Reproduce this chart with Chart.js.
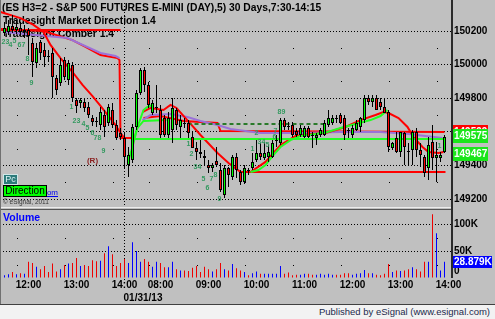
<!DOCTYPE html>
<html>
<head>
<meta charset="utf-8">
<script src="https://cdn.jsdelivr.net/npm/chart.js@4.4.1/dist/chart.umd.min.js"></script>
<style>
  html, body { margin:0; padding:0; }
  body { width:495px; height:319px; background:#c0c0c0; position:relative; overflow:hidden; font-family:"Liberation Sans", Arial, sans-serif; }
  canvas { position:absolute; left:0; }
  #pc { top:0; }
  #vc { top:207px; }
  #leftline { position:absolute; left:0; top:0; width:1px; height:304px; background:#707070; }
  #footer { position:absolute; left:0; top:304px; width:495px; height:15px; background:#f2f2f2; border-top:1px solid #404040; box-sizing:border-box; }
  #footer span { position:absolute; right:5px; top:1px; font-size:9.5px; line-height:12px; color:#1b2a4c; white-space:nowrap; }
</style>
</head>
<body>
<canvas id="pc" width="495" height="207"></canvas>
<canvas id="vc" width="495" height="97"></canvas>
<div id="leftline"></div>
<div id="footer"><span>Published by eSignal (www.esignal.com)</span></div>
<script>
// ================= DATA =================
// 5-minute bars: day 1 11:30-14:10 (index 0-32), day 2 (01/31/13) 07:30-14:00 (index 33-110)
const openP = [150188,150194,150230,150206,150218,150194,150206,150129,150010,150135,
150087,150051,150069,149920,149891,150028,149908,149998,149789,149771,
149777,149748,149682,149664,149641,149700,149652,149730,149641,149593,
149563,149403,149432,149629,149831,149968,149879,149712,149742,149730,
149682,149581,149611,149730,149629,149652,149652,149569,149504,149480,
149456,149403,149385,149426,149373,149224,149385,149331,149450,149361,
149301,149373,149385,149432,149474,149444,149450,149450,149545,149534,
149670,149635,149641,149605,149581,149569,149623,149581,149563,149581,
149581,149641,149652,149682,149700,149682,149611,149581,149611,149629,
149670,149801,149777,149801,149777,149748,149718,149504,149563,149480,
149593,149486,149492,149599,149492,149450,149385,149540,149444,149444,
149480];
const highP = [150254,150265,150295,150265,150254,150236,150218,150158,150129,150146,
150129,150087,150099,149938,150039,150045,150028,150016,149801,149801,
149801,149777,149700,149688,149748,149730,149766,149771,149670,149623,
149593,149510,149647,149849,149980,149986,149896,149789,149879,149760,
149700,149718,149801,149742,149700,149682,149670,149599,149540,149551,
149492,149432,149414,149510,149414,149403,149391,149462,149474,149373,
149403,149385,149474,149551,149534,149540,149522,149551,149581,149682,
149682,149658,149658,149623,149641,149635,149635,149599,149593,149623,
149670,149730,149700,149700,149712,149700,149623,149641,149670,149688,
149819,149819,149819,149819,149801,149801,149730,149540,149599,149599,
149599,149534,149611,149623,149534,149462,149569,149641,149540,149480,
149581];
const lowP = [150170,150176,150188,150182,150170,150158,150057,149926,149980,150028,
149986,150016,149801,149819,149873,149908,149879,149777,149712,149742,
149718,149682,149635,149629,149611,149569,149635,149623,149551,149551,
149385,149331,149414,149611,149819,149837,149742,149700,149712,149563,
149569,149563,149534,149611,149563,149623,149563,149504,149432,149444,
149403,149355,149361,149391,149242,149206,149272,149313,149325,149284,
149290,149343,149373,149420,149432,149432,149420,149444,149510,149522,
149611,149611,149569,149569,149569,149563,149563,149504,149522,149569,
149575,149629,149641,149652,149647,149551,149563,149563,149605,149599,
149652,149760,149748,149730,149730,149712,149480,149492,149474,149450,
149403,149403,149403,149450,149391,149331,149313,149373,149301,149420,
149474];
const closeP = [150218,150230,150206,150224,150194,150206,150170,150016,150099,150069,
150045,150045,149926,149849,149998,149926,150010,149801,149754,149789,
149742,149700,149658,149658,149718,149629,149748,149641,149563,149569,
149450,149462,149629,149831,149968,149879,149760,149771,149748,149581,
149581,149682,149742,149641,149670,149647,149593,149504,149480,149468,
149444,149385,149403,149403,149254,149385,149343,149450,149373,149301,
149385,149367,149420,149474,149450,149474,149480,149534,149551,149670,
149629,149629,149581,149581,149623,149623,149569,149575,149581,149611,
149652,149682,149682,149676,149652,149581,149605,149623,149652,149682,
149801,149777,149801,149730,149748,149712,149510,149534,149480,149599,
149510,149480,149599,149492,149462,149355,149522,149444,149462,149462,
149569];
const volume = [5000,7000,11000,7000,9000,8000,30000,28000,21000,16000,
22000,11000,27000,12000,16000,24000,27000,28000,37000,22000,
24000,22000,33000,31000,32000,46000,59000,44000,22000,28000,
35000,28000,66000,50000,30000,35000,30000,21000,30000,28000,
20000,20000,30000,16000,14000,14000,13000,19000,22000,11000,
21000,16000,12000,16000,28000,16000,14000,26000,18000,14000,
11000,5000,9000,12000,8000,8000,8000,8000,8000,22000,
8000,10000,5000,6000,6000,8000,8000,6000,6000,8000,
6000,8000,6000,6000,6000,9000,9000,6000,8000,9000,
15000,9000,9000,6000,5000,8000,26000,11000,14000,13000,
14000,16000,20000,16000,12000,30000,30000,118000,83000,14000,
30000];

// Time axis (bar index of each label) and labels
const timeTickIdx = [6,18,30,39,51,63,75,87,99,111];
const timeTickText = ['12:00','13:00','14:00','08:00','09:00','10:00','11:00','12:00','13:00','14:00'];
const dateLabel = '01/31/13';
const priceTicks = [149200,149400,149600,149800,150000,150200];
const volTicks = [0,50000,100000];
const volTickText = ['0','50K','100K'];

// Study lines: [bar index, price]
const comberDay1 = [[-1,150206],[29,150206]];
const fastRedDay1 = [[-1,150313],[4,150277],[7.25,150236],[9.75,150194],[11.5,150117],[14,150039],[17,149956],[19.5,149879],[22,149813],[24,149754],[26,149694],[27.75,149641],[29,149593],[30,149563]];
const slowRedDay1 = [[-1,150212],[9.75,150200],[17,150146],[20.25,150105],[24,150057],[28.25,150039],[28.75,150027],[29,149563],[31.75,149563]];
const purpleDay1 = [[-0.25,150194],[15.75,150158],[24,150069],[27.75,150051],[28.75,150039]];
const greenFast2 = [[31,149432],[32,149510],[33.25,149629],[34.75,149730],[35.75,149748],[37,149760]];
const greenStep2 = [[32.25,149551],[33.25,149623],[34.75,149665],[40.5,149670]];
const greenLevel2 = [[31.75,149557],[110.25,149557]];
const fastRed2 = [[34.5,149718],[36.5,149742],[39.75,149730],[41.5,149760],[43,149742],[45.25,149682],[49,149581],[53.25,149474],[56,149415],[59,149361],[61.5,149361],[65.25,149421],[69,149522],[72.75,149575],[76.5,149587],[80.25,149593],[85.25,149629],[89,149670],[92.75,149700],[94.75,149718],[96,149712],[98.5,149682],[100.75,149629],[102.25,149569],[104.5,149510],[106,149480],[108.5,149474],[109.75,149480]];
const slowRed2 = [[34.75,149682],[39,149694],[44.75,149665],[53.25,149653],[54,149605],[110,149599]];
const purple2 = [[34.5,149670],[36.5,149700],[41.5,149706],[45.75,149688],[49,149665],[53.25,149641],[56.5,149617],[64,149593],[74,149593],[84,149599],[94,149599],[101,149587],[109.5,149563]];
const greenTrend2 = [[61.5,149361],[63.5,149373],[65.25,149403],[67,149456],[69,149510],[71.5,149551],[74,149575],[77.75,149587],[80.75,149599],[84,149623],[87.75,149647],[91.5,149670],[94,149694],[95.75,149730]];
const redLevel2 = [[61.5,149361],[110.25,149361]];
const dashedGreen2 = [[45.75,149647],[79.75,149647]];

// Count annotations: [bar index, price, text]
const counts = [
 [0.25,150135,'23'],[1.5,150117,'4'],[2.5,150141,'5'],[4.25,150117,'67'],[5.75,150033,'8'],[6.75,149891,'9'],
 [16.75,149748,'1'],[18,149665,'23'],[19.75,149647,'4'],[20.75,149623,'5'],[22,149593,'6'],[23.25,149563,'78'],[24.75,149486,'9'],
 [46,149528,'1'],[46.75,149468,'2'],[48.25,149391,'34'],[49.75,149319,'5'],[50.75,149266,'6'],[51.75,149319,'7'],[52.75,149343,'8'],[53.75,149200,'9'],
 [62,149498,'1'],[63,149593,'2'],[64.25,149540,'34'],[65.75,149522,'5'],[67.5,149569,'6'],[67.75,149605,'7'],[69.25,149718,'89'],
 [108.75,149516,'1']
];
const rMark = [22,149427,'(R)'];
const lastValues = [149599,149575,149467];
const lastVolume = 28879;
const lastVolumeText = '28.879K';

const titleText = '(ES H3=2 - S&P 500 FUTURES E-MINI (DAY),5) 30 Days,7:30-14:15';
const study1 = 'Tradesight Market Direction 1.4';
const study2 = 'Tradesight Comber 1.4';

// ================= STYLE / LAYOUT =================
const FONT = '"Liberation Sans", Arial, sans-serif';
const X_MIN = -1.125, X_MAX = 111.875;
const Y_MAX = 150366.6, Y_MIN = 149158.75;
const VOL_MAX = 125926;
const lastValueColors = ['#ff0000','#1be61b','#1be61b'];
const midLevels = [150100,149900,149700,149500,149300];
const dotIdx = [3,15,27,36,48,60,72,84,96,108];
const sepIdx = 29.75;

const n = openP.length;
const idx = Array.from({length:n}, (_, i) => i);
const up = idx.map(i => closeP[i] >= openP[i]);
const toXY = arr => arr.map(([x, y]) => ({x, y}));
const lineDs = (data, color, extra) => Object.assign({
  type:'line', data: toXY(data), borderColor: color, borderWidth: 2,
  pointRadius: 0, tension: 0, fill: false, order: 3
}, extra || {});

const pricePlugin = {
  id: 'pricePlugin',
  beforeDatasetsDraw(chart) {
    const {ctx, chartArea: a, scales: {x, y}} = chart;
    ctx.save();
    ctx.fillStyle = '#000';
    for (const lv of midLevels) {
      const py = Math.round(y.getPixelForValue(lv));
      for (const d of dotIdx) ctx.fillRect(Math.round(x.getPixelForValue(d)), py, 1, 1);
    }
    const sx = Math.round(x.getPixelForValue(sepIdx));
    for (let yy = a.top; yy < a.bottom; yy += 3) ctx.fillRect(sx, yy, 1, 1);
    ctx.textBaseline = 'middle';
    ctx.textAlign = 'left';
    ctx.font = 'bold 10.3px ' + FONT;
    ctx.fillText(titleText, 2, 8);
    ctx.fillText(study1, 3, 21);
    ctx.fillText(study2, 3, 34);
    ctx.restore();
  },
  afterDatasetsDraw(chart) {
    const {ctx, scales: {x, y}} = chart;
    ctx.save();
    ctx.textAlign = 'center';
    ctx.textBaseline = 'middle';
    ctx.font = 'bold 7px ' + FONT;
    ctx.fillStyle = '#33995f';
    for (const [i, p, t] of counts) ctx.fillText(t, x.getPixelForValue(i), y.getPixelForValue(p));
    ctx.font = 'bold 8px ' + FONT;
    ctx.fillStyle = '#8b2222';
    ctx.fillText(rMark[2], x.getPixelForValue(rMark[0]), y.getPixelForValue(rMark[1]));
    // link text hidden behind the Direction box
    ctx.font = '8px ' + FONT;
    ctx.fillStyle = '#0000ee';
    ctx.textAlign = 'right';
    ctx.fillText('tradesight.com', 58, 193);
    ctx.fillRect(30, 196, 28, 1);
    // Pc box
    ctx.fillStyle = '#2b7a7a';
    ctx.fillRect(3, 174, 15, 11);
    ctx.strokeStyle = '#cfe6e6';
    ctx.lineWidth = 1;
    ctx.strokeRect(3.5, 174.5, 14, 10);
    ctx.fillStyle = '#d8f4f4';
    ctx.textAlign = 'center';
    ctx.font = '9px ' + FONT;
    ctx.fillText('Pc', 10.5, 180);
    // Direction box
    ctx.fillStyle = '#00ff00';
    ctx.fillRect(3, 185, 44, 12);
    ctx.strokeStyle = '#000';
    ctx.strokeRect(3.5, 185.5, 43, 11);
    ctx.fillStyle = '#000';
    ctx.font = '10px ' + FONT;
    ctx.fillText('Direction', 25, 191.5);
    ctx.font = '6.5px ' + FONT;
    ctx.fillStyle = '#333';
    ctx.textAlign = 'left';
    ctx.fillText('\u00a9 eSignal, 2011', 3, 202);
    ctx.restore();
  },
  afterDraw(chart) {
    const {ctx, scales: {y}} = chart;
    ctx.save();
    ctx.fillStyle = '#2a2a2a';
    ctx.fillRect(451, 0, 2, 207);
    ctx.font = 'bold 10px ' + FONT;
    ctx.textBaseline = 'middle';
    ctx.textAlign = 'left';
    lastValues.forEach((v, k) => {
      const py = Math.round(y.getPixelForValue(v));
      ctx.fillStyle = lastValueColors[k];
      ctx.fillRect(453, py - 7, 35, 14);
      ctx.fillStyle = '#ffffff';
      ctx.fillText(String(v), 454, py + 0.5);
    });
    ctx.restore();
  }
};

new Chart(document.getElementById('pc'), {
  type: 'bar',
  data: { datasets: [
    { label:'body', data: idx.map(i => ({x:i, y:[openP[i], closeP[i]]})),
      backgroundColor: idx.map(i => up[i] ? '#00ff00' : '#ff0000'),
      borderColor:'#000', borderWidth:1, borderSkipped:false, barThickness:3,
      grouped:false, minBarLength:1, inflateAmount:0, order:0 },
    { label:'wick', data: idx.map(i => ({x:i, y:[lowP[i], highP[i]]})),
      backgroundColor:'#000', borderWidth:0, barThickness:1, grouped:false, inflateAmount:0, order:1 },
    lineDs(greenTrend2, '#22ff22', {order:2}),
    lineDs(greenFast2, '#22ff22', {order:2}),
    lineDs(greenStep2, '#22ff22', {order:2}),
    lineDs(greenLevel2, '#22ff22', {order:2}),
    lineDs(dashedGreen2, '#2a7a2a', {borderDash:[4,3], order:2}),
    lineDs(fastRedDay1, '#ff0000'),
    lineDs(fastRed2, '#ff0000'),
    lineDs(comberDay1, '#ff0000'),
    lineDs(redLevel2, '#ff0000'),
    lineDs(slowRedDay1, '#ff0000', {order:4}),
    lineDs(slowRed2, '#ff0000', {order:4}),
    lineDs(purpleDay1, '#9b72d8', {order:3}),
    lineDs(purple2, '#9b72d8', {order:3})
  ]},
  options: {
    responsive:false, animation:false, devicePixelRatio:1,
    layout:{ padding:{ left:0, right:0, top:3, bottom:1 } },
    plugins:{ legend:{ display:false }, tooltip:{ enabled:false } },
    scales:{
      x:{ type:'linear', min:X_MIN, max:X_MAX, display:false, offset:false },
      y:{ type:'linear', position:'right', min:Y_MIN, max:Y_MAX,
          afterFit(s){ s.width = 43; s.paddingTop = 0; s.paddingBottom = 0; },
          afterBuildTicks(s){ s.ticks = priceTicks.map(v => ({value:v})); },
          ticks:{ callback: v => String(v), color:'#000', font:{ family:FONT, size:10, weight:'bold' }, padding:2 },
          grid:{ color:'#000', lineWidth:1, drawTicks:false },
          border:{ display:false, dash:[1,2] } }
    }
  },
  plugins:[pricePlugin]
});

const volPlugin = {
  id: 'volPlugin',
  beforeDatasetsDraw(chart) {
    const {ctx, chartArea: a, scales: {x, y}} = chart;
    ctx.save();
    ctx.fillStyle = '#ececec';
    ctx.fillRect(0, 0, 452, 1);
    ctx.fillStyle = '#555';
    ctx.fillRect(0, 2, 452, 1);
    ctx.fillStyle = '#000';
    for (const lv of [75000, 25000]) {
      const py = Math.round(y.getPixelForValue(lv));
      for (const d of dotIdx) ctx.fillRect(Math.round(x.getPixelForValue(d)), py, 1, 1);
    }
    const sx = Math.round(x.getPixelForValue(sepIdx));
    for (let yy = a.top; yy < a.bottom + 3; yy += 3) ctx.fillRect(sx, yy, 1, 1);
    ctx.fillStyle = '#0000ff';
    ctx.font = 'bold 10.5px ' + FONT;
    ctx.textBaseline = 'middle';
    ctx.textAlign = 'left';
    ctx.fillText('Volume', 3, 11);
    ctx.restore();
  },
  afterDraw(chart) {
    const {ctx, chartArea: a, scales: {y}} = chart;
    ctx.save();
    ctx.fillStyle = '#2a2a2a';
    ctx.fillRect(451, 0, 2, a.bottom);
    ctx.font = 'bold 10px ' + FONT;
    ctx.textBaseline = 'middle';
    ctx.textAlign = 'left';
    ctx.fillStyle = '#000';
    ctx.fillText('0', 454, a.bottom - 6.5);
    const py = Math.round(y.getPixelForValue(lastVolume));
    ctx.fillStyle = '#0000ff';
    ctx.fillRect(453, py - 6, 39, 12);
    ctx.fillStyle = '#ffffff';
    ctx.fillText(lastVolumeText, 454, py + 0.5);
    ctx.fillStyle = '#000';
    ctx.textAlign = 'center';
    ctx.fillText(dateLabel, 143, 91);
    ctx.restore();
  }
};

new Chart(document.getElementById('vc'), {
  type: 'bar',
  data: { datasets: [
    { label:'Volume', data: idx.map(i => ({x:i, y:volume[i]})),
      backgroundColor: idx.map(i => up[i] ? '#0000ff' : '#ee0000'),
      borderWidth:0, barThickness:1, grouped:false, inflateAmount:0 }
  ]},
  options: {
    responsive:false, animation:false, devicePixelRatio:1,
    layout:{ padding:{ left:0, right:0, top:3, bottom:0 } },
    plugins:{ legend:{ display:false }, tooltip:{ enabled:false } },
    scales:{
      x:{ type:'linear', min:X_MIN, max:X_MAX, offset:false,
          afterFit(s){ s.height = 26; s.paddingLeft = 0; s.paddingRight = 0; },
          afterBuildTicks(s){ s.ticks = timeTickIdx.map(v => ({value:v})); },
          ticks:{ autoSkip:false, maxRotation:0, callback:(v, i) => timeTickText[i], color:'#000', font:{ family:FONT, size:10, weight:'bold' }, padding:1 },
          grid:{ display:false, drawTicks:false }, border:{ display:false } },
      y:{ type:'linear', position:'right', min:0, max:VOL_MAX,
          afterFit(s){ s.width = 43; s.paddingTop = 0; s.paddingBottom = 0; },
          afterBuildTicks(s){ s.ticks = volTicks.map(v => ({value:v})); },
          ticks:{ callback:(v, i) => (v === 0 ? '' : volTickText[i]), color:'#000', font:{ family:FONT, size:10, weight:'bold' }, padding:2 },
          grid:{ color: c => (c.tick && c.tick.value === 0 ? 'rgba(0,0,0,0)' : '#000'), lineWidth:1, drawTicks:false },
          border:{ display:false, dash:[1,2] } }
    }
  },
  plugins:[volPlugin]
});
</script>
</body>
</html>
